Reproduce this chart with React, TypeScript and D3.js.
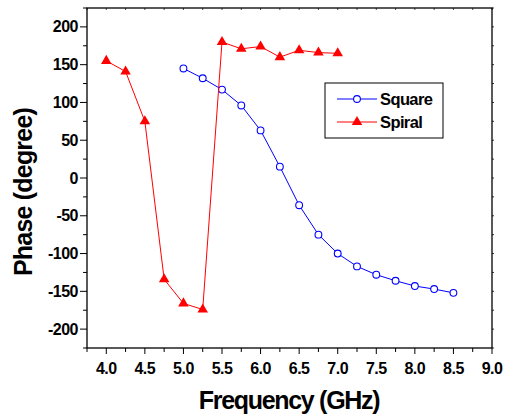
import React from "react";
import * as d3 from "d3";

const squareFreq = [5.0, 5.25, 5.5, 5.75, 6.0, 6.25, 6.5, 6.75, 7.0, 7.25, 7.5, 7.75, 8.0, 8.25, 8.5];
const squarePhase = [145, 132, 117, 96, 63, 15, -36, -75, -100, -117, -128, -136, -143, -147, -152];
const spiralFreq = [4.0, 4.25, 4.5, 4.75, 5.0, 5.25, 5.5, 5.75, 6.0, 6.25, 6.5, 6.75, 7.0];
const spiralPhase = [155, 141, 75, -134, -166, -174, 180, 171, 174, 160, 169, 166, 165];
const xTicks = [4.0, 4.5, 5.0, 5.5, 6.0, 6.5, 7.0, 7.5, 8.0, 8.5, 9.0];
const yTicks = [-200, -150, -100, -50, 0, 50, 100, 150, 200];
const seriesNames = ["Square", "Spiral"];

const W = 513, H = 418;
const L = 87, R = 492, T = 8, B = 348;

export default function App() {
  const x = d3.scaleLinear().domain([3.75, 9.0]).range([L, R]);
  const y = d3.scaleLinear().domain([-225, 225]).range([B, T]);
  const line = d3.line<[number, number]>().x(d => x(d[0])).y(d => y(d[1]));
  const sq = squareFreq.map((f, i) => [f, squarePhase[i]] as [number, number]);
  const sp = spiralFreq.map((f, i) => [f, spiralPhase[i]] as [number, number]);
  const xMinor = d3.range(3.75, 9.001, 0.25);
  const yMinor = d3.range(-225, 225.01, 25);
  const font = "'Liberation Sans', Arial, sans-serif";
  const tri = d3.symbol().type(d3.symbolTriangle).size(48)() as string;

  return (
    <svg width={W} height={H} style={{ position: "absolute", left: 0, top: 0, background: "#fff" }}>
      {xMinor.map((v, i) => {
        const major = Math.abs((v * 2) - Math.round(v * 2)) < 1e-6;
        return (
          <g key={"xb" + i}>
            <line x1={x(v)} x2={x(v)} y1={B} y2={B + (major ? 6 : 4)} stroke="#000" strokeWidth={1} />
            <line x1={x(v)} x2={x(v)} y1={T} y2={T + 2} stroke="#000" strokeWidth={0.7} />
          </g>
        );
      })}
      {yMinor.map((v, i) => {
        const major = Math.abs(v % 50) < 1e-6;
        return (
          <g key={"yl" + i}>
            <line x1={L} x2={L - (major ? 7 : 4)} y1={y(v)} y2={y(v)} stroke="#000" strokeWidth={1} />
            <line x1={R} x2={R + 2} y1={y(v)} y2={y(v)} stroke="#000" strokeWidth={0.8} />
          </g>
        );
      })}
      <rect x={L} y={T} width={R - L} height={B - T} fill="none" stroke="#000" strokeWidth={1.3} />
      {xTicks.map(v => (
        <text key={"xt" + v} x={x(v)} y={373.5} textAnchor="middle" fontFamily={font} fontWeight="bold" fontSize={16} letterSpacing={-0.5}>
          {v.toFixed(1)}
        </text>
      ))}
      {yTicks.map(v => (
        <text key={"yt" + v} x={78} y={y(v) + 5.6} textAnchor="end" fontFamily={font} fontWeight="bold" fontSize={16} letterSpacing={-0.5}>
          {v}
        </text>
      ))}
      <text x={289} y={409} textAnchor="middle" fontFamily={font} fontWeight="bold" fontSize={25} letterSpacing={-1.3}>
        Frequency (GHz)
      </text>
      <text transform={`translate(32,192) rotate(-90)`} textAnchor="middle" fontFamily={font} fontWeight="bold" fontSize={25} letterSpacing={-0.8}>
        Phase (degree)
      </text>

      <path d={line(sq) as string} fill="none" stroke="#0000ff" strokeWidth={1} />
      {sq.map((d, i) => (
        <circle key={"c" + i} cx={x(d[0])} cy={y(d[1])} r={3.4} fill="#fff" stroke="#0000ff" strokeWidth={1.1} />
      ))}
      <path d={line(sp) as string} fill="none" stroke="#ff0000" strokeWidth={1} />
      {sp.map((d, i) => (
        <path key={"t" + i} d={tri} transform={`translate(${x(d[0])},${y(d[1])})`} fill="#ff0000" />
      ))}

      <rect x={325} y={83} width={118} height={55} fill="#fff" stroke="#000" strokeWidth={1} />
      <line x1={337} x2={377} y1={99} y2={99} stroke="#0000ff" strokeWidth={1} />
      <circle cx={357} cy={99} r={3.4} fill="#fff" stroke="#0000ff" strokeWidth={1.1} />
      <text x={380} y={105} fontFamily={font} fontWeight="bold" fontSize={16.5} letterSpacing={-0.6}>{seriesNames[0]}</text>
      <line x1={337} x2={377} y1={122} y2={122} stroke="#ff0000" strokeWidth={1} />
      <path d={tri} transform="translate(357,122)" fill="#ff0000" />
      <text x={380} y={128} fontFamily={font} fontWeight="bold" fontSize={16.5} letterSpacing={-0.6}>{seriesNames[1]}</text>
    </svg>
  );
}
